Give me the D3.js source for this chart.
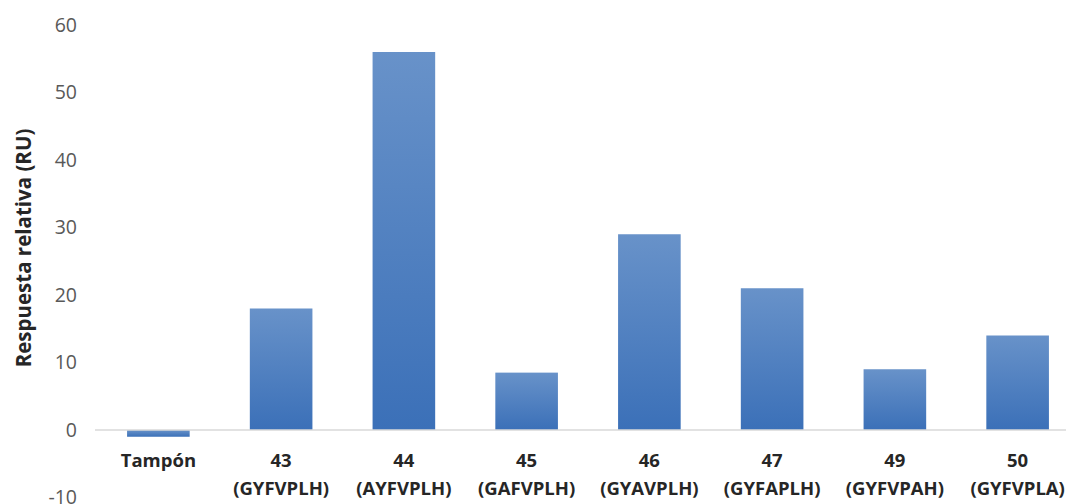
<!DOCTYPE html>
<html>
<head>
<meta charset="utf-8">
<script src="https://cdn.jsdelivr.net/npm/d3@7"></script>
<style>
  html, body { margin: 0; padding: 0; background: #fff; }
  svg { display: block; }
</style>
</head>
<body>
<svg id="chart" width="1066" height="504"></svg>
<script>
// Peptide binding response (relative units)
const codes = ["Tampón", "43", "44", "45", "46", "47", "49", "50"];
const sequences = ["", "(GYFVPLH)", "(AYFVPLH)", "(GAFVPLH)", "(GYAVPLH)", "(GYFAPLH)", "(GYFVPAH)", "(GYFVPLA)"];
const responses = [-1, 18, 56, 8.5, 29, 21, 9, 14];
const yTicks = [-10, 0, 10, 20, 30, 40, 50, 60];

const svg = d3.select("#chart");
const font = "'Open Sans', 'Liberation Sans', sans-serif";

const x = d3.scaleBand()
  .domain(codes)
  .range([97, 1079])
  .paddingInner(0.49)
  .paddingOuter(0.245);

const y = d3.scaleLinear()
  .domain([-10, 60])
  .range([497.5, 25]);

// vertical gradient used for every bar
const grad = svg.append("defs").append("linearGradient")
  .attr("id", "barFill")
  .attr("x1", 0).attr("y1", 0).attr("x2", 0).attr("y2", 1);
grad.append("stop").attr("offset", "0%").attr("stop-color", "#6892c9");
grad.append("stop").attr("offset", "100%").attr("stop-color", "#3b70b8");

// y-axis tick labels only (no axis line, no gridlines)
const yAxis = d3.axisLeft(y)
  .tickValues(yTicks)
  .tickFormat(d => String(d))
  .tickSize(0)
  .tickPadding(0);
const yg = svg.append("g").attr("transform", "translate(77,0)").call(yAxis);
yg.select(".domain").remove();
yg.selectAll("text")
  .attr("font-family", font)
  .attr("font-size", 19.5)
  .attr("fill", "#595959");

// bars
svg.append("g").selectAll("rect")
  .data(codes)
  .join("rect")
  .attr("x", d => x(d))
  .attr("width", x.bandwidth())
  .attr("y", (d, i) => y(Math.max(0, responses[i])))
  .attr("height", (d, i) => Math.abs(y(responses[i]) - y(0)))
  .attr("fill", "url(#barFill)");

// zero line acting as category axis
svg.append("line")
  .attr("x1", 95).attr("x2", 1066)
  .attr("y1", y(0)).attr("y2", y(0))
  .attr("stroke", "#d9d9d9")
  .attr("stroke-width", 1.5);

// category labels (code + sequence on two lines)
const labels = svg.append("g");
codes.forEach((c, i) => {
  const cx = x(c) + x.bandwidth() / 2;
  labels.append("text")
    .attr("x", cx).attr("y", 467)
    .attr("text-anchor", "middle")
    .attr("font-family", font)
    .attr("font-weight", "bold")
    .attr("font-size", 18.5)
    .attr("fill", "#262626")
    .text(c);
  if (sequences[i]) {
    labels.append("text")
      .attr("x", cx).attr("y", 495)
      .attr("text-anchor", "middle")
      .attr("font-family", font)
      .attr("font-weight", "bold")
      .attr("font-size", 18.5)
      .attr("fill", "#262626")
      .text(sequences[i]);
  }
});

// y-axis title
svg.append("text")
  .attr("transform", "translate(31,248) rotate(-90)")
  .attr("text-anchor", "middle")
  .attr("font-family", font)
  .attr("font-weight", "bold")
  .attr("font-size", 20.5)
  .attr("fill", "#262626")
  .text("Respuesta relativa (RU)");
</script>
</body>
</html>
